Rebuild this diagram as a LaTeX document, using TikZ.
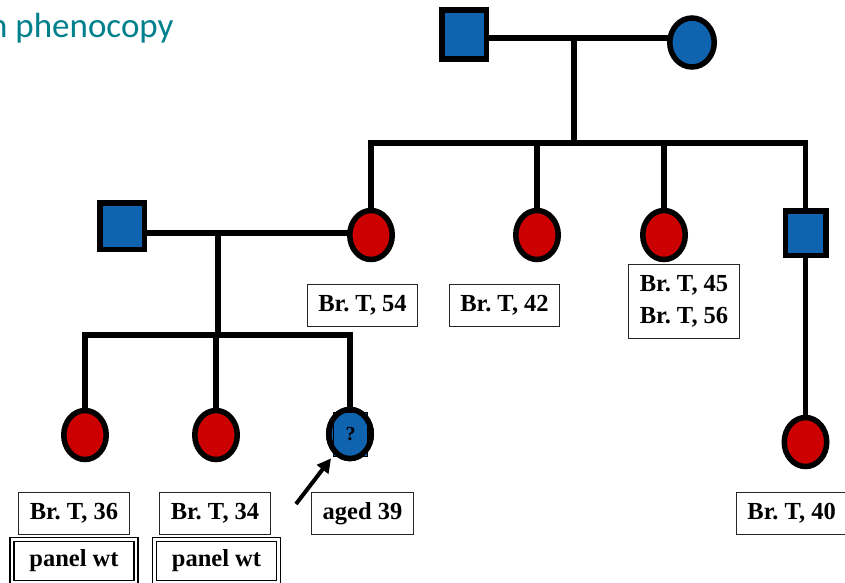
\documentclass[tikz,border=0pt]{standalone}
\usepackage{fontspec}
\setmainfont{Liberation Serif}
\newfontfamily\titlefont{Carlito}
\usetikzlibrary{shapes.geometric,arrows.meta}
\definecolor{pblue}{RGB}{16,99,175}
\definecolor{pred}{RGB}{204,0,0}
\definecolor{pteal}{RGB}{0,128,140}
\frenchspacing
\begin{document}
\begin{tikzpicture}[x=1pt,y=-1pt,
  male/.style={draw=black, fill=pblue, line width=5.5pt, minimum width=44.5pt, minimum height=47pt, inner sep=0pt},
  female/.style={ellipse, draw=black, fill=pred, line width=5.5pt, minimum width=42.5pt, minimum height=49pt, inner sep=0pt},
  link/.style={line width=5.5pt, line cap=rect},
  infobox/.style={draw=black!85, line width=0.8pt, fill=white, font=\bfseries\fontsize{24.5}{32}\selectfont, inner xsep=11pt, inner ysep=0pt, minimum height=42pt, align=center},
  panelbox/.style={draw=black, double, double distance=2.5pt, line width=1.3pt, fill=white, font=\bfseries\fontsize{24.5}{30}\selectfont, minimum width=124pt, minimum height=43pt, inner sep=0pt},
]
\useasboundingbox (0,0) rectangle (845,582);

% title
\node[anchor=base west, inner sep=0pt, text=pteal, font=\titlefont\fontsize{35}{40}\selectfont] (title) at (-11,37) {n phenocopy};

% generation I
\node[male, minimum width=44.5pt, minimum height=49pt] (f1) at (464,34.5) {};
\node[female, fill=pblue, minimum width=44.5pt] (m1) at (692,42.5) {};
\coordinate (mate1) at (574,38);
\coordinate (sib1) at (574,143);

% generation II
\node[female] (c1) at (371,235) {};
\node[female] (c2) at (537,235) {};
\node[female] (c3) at (664,235) {};
\node[male, minimum width=40.5pt, minimum height=44.5pt] (c4) at (805.5,233) {};
\node[male, minimum width=44.5pt, minimum height=46.5pt] (h1) at (122,226) {};
\coordinate (mate2) at (218,233);
\coordinate (sib2) at (218,335);

% generation III
\node[female] (g1) at (85,435) {};
\node[female] (g2) at (216,435) {};
\node[female, fill=pblue] (g3) at (350,434) {};
\node[draw=black, line width=0.6pt, fill=pblue, minimum width=34pt, minimum height=44pt, inner sep=0pt, font=\bfseries\fontsize{20}{20}\selectfont] (q) at (350.5,434.5) {?};
\node[female, fill=none] (g3ring) at (350,434) {};
\node[female] (g4) at (805.5,442) {};

% connectors
\draw[link] (f1.east |- mate1) -- (m1.west |- mate1);
\draw[link] (mate1) -- (sib1);
\draw[link] (c1.north |- sib1) -- (c4.north |- sib1);
\foreach \c in {c1,c2,c3,c4} \draw[link] (\c.north |- sib1) -- (\c.north);
\draw[link] (h1.east |- mate2) -- (c1.west |- mate2);
\draw[link] (mate2) -- (sib2);
\draw[link] (g1.north |- sib2) -- (g3.north |- sib2);
\foreach \c in {g1,g2,g3} \draw[link] (\c.north |- sib2) -- (\c.north);
\draw[link] (c4.south) -- (g4.north);

% labels
\node[infobox] (l1) at (362.5,305) {Br. T, 54};
\node[infobox] (l2) at (504.5,305) {Br. T, 42};
\node[infobox, minimum height=74pt] (l3) at (684,301) {Br. T, 45\\Br. T, 56};
\node[infobox] (l4) at (74,513) {Br. T, 36};
\node[infobox] (l5) at (215,513) {Br. T, 34};
\node[infobox] (l6) at (362.5,513.5) {aged 39};
\node[infobox, anchor=west] (l7) at (736,513.5) {Br. T, 40};
\node[panelbox] (p1) at (74,561) {panel wt};
\node[panelbox] (p2) at (216.5,561) {panel wt};

% proband arrow
\coordinate (arrtail) at (296,504);
\draw[line width=4pt, -{Triangle[length=14pt,width=14pt]}, shorten >=5pt] (arrtail) -- (g3.232);
\end{tikzpicture}
\end{document}
